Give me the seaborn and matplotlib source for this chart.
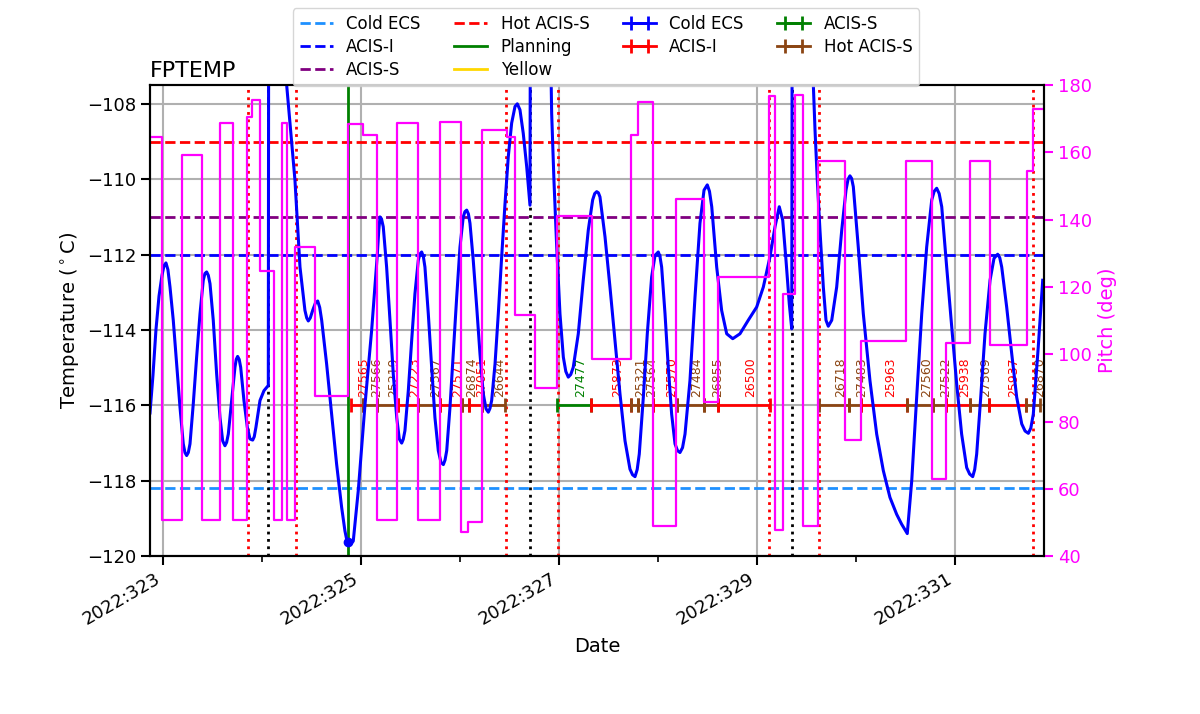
import matplotlib
matplotlib.use("Agg")
import matplotlib.pyplot as plt
from matplotlib.ticker import FixedLocator, FuncFormatter
import numpy as np
import pandas as pd
import seaborn as sns

# times are fractional day-of-year 2022
year = 2022

# model FPTEMP (deg C); values above -107.5 are off the top of the plot
temp_time = [
    322.869, 322.899, 322.929, 322.960, 322.990, 323.010, 323.030, 323.050, 323.071, 323.104, 323.138, 323.172,
    323.205, 323.222, 323.239, 323.256,
    323.273, 323.306, 323.340, 323.374, 323.407, 323.424, 323.441, 323.458,
    323.475, 323.508, 323.542, 323.576, 323.603, 323.626, 323.643,
    323.660, 323.694, 323.727, 323.740, 323.754, 323.770,
    323.785, 323.818, 323.852, 323.879, 323.906, 323.922,
    323.939, 323.980, 324.020, 324.064,
    324.068, 324.140,
    324.249, 324.333, 324.384, 324.434, 324.452, 324.468, 324.488, 324.512, 324.540, 324.563, 324.583,
    324.603, 324.653, 324.704, 324.754, 324.805, 324.838, 324.855, 324.872, 324.895, 324.922,
    324.973, 325.007, 325.040, 325.074, 325.108, 325.141, 325.165, 325.180, 325.192, 325.207,
    325.225, 325.259, 325.293, 325.326, 325.361, 325.387, 325.411, 325.427,
    325.444, 325.478, 325.512, 325.545, 325.579, 325.596, 325.613, 325.630,
    325.646, 325.680, 325.714, 325.747, 325.781, 325.808, 325.832, 325.849,
    325.866, 325.899, 325.932, 325.967, 326.000, 326.033, 326.050, 326.068, 326.085,
    326.101, 326.134, 326.169, 326.202, 326.235, 326.263, 326.286, 326.303,
    326.320, 326.354, 326.387, 326.421, 326.455, 326.488, 326.522, 326.556, 326.579,
    326.606, 326.639, 326.674, 326.700, 326.707,
    326.712, 326.900,
    326.926, 326.949, 326.977, 327.010, 327.044, 327.069, 327.094, 327.119,
    327.144, 327.195, 327.245, 327.296, 327.340, 327.361, 327.381, 327.398,
    327.414, 327.465, 327.515, 327.566, 327.616, 327.667, 327.717, 327.743, 327.768, 327.790,
    327.811, 327.852, 327.892, 327.936, 327.970, 328.003, 328.020,
    328.037, 328.071, 328.104, 328.138, 328.172, 328.197, 328.222, 328.248,
    328.273, 328.323, 328.374, 328.424, 328.465, 328.498, 328.520,
    328.543, 328.593, 328.643, 328.694, 328.755,
    328.828, 328.912, 328.997, 329.064, 329.131, 329.182, 329.225,
    329.260, 329.293, 329.326, 329.351,
    329.356, 329.555,
    329.569, 329.586, 329.609, 329.636, 329.670, 329.697, 329.720,
    329.755, 329.805, 329.856, 329.899, 329.920, 329.939, 329.956,
    329.973, 330.023, 330.074, 330.141, 330.209, 330.276, 330.343, 330.411, 330.461, 330.518,
    330.563, 330.613, 330.664, 330.714, 330.765, 330.790, 330.815, 330.840,
    330.866, 330.916, 330.967, 331.017, 331.067, 331.118, 331.148, 331.179, 331.199,
    331.219, 331.260, 331.303, 331.354, 331.394, 331.431, 331.452,
    331.472, 331.522, 331.573, 331.623, 331.674, 331.708, 331.741, 331.766,
    331.791, 331.841, 331.886,
]
temp_val = [
    -116.20, -115.20, -114.00, -113.10, -112.55, -112.30, -112.22, -112.40, -112.86, -113.74, -114.90, -116.05,
    -117.02, -117.25, -117.33, -117.25,
    -117.02, -115.96, -114.72, -113.57, -112.68, -112.50, -112.46, -112.55,
    -112.77, -113.74, -115.16, -116.32, -116.94, -117.07, -116.98,
    -116.76, -115.87, -114.99, -114.78, -114.70, -114.78,
    -114.99, -115.87, -116.58, -116.89, -116.92, -116.83,
    -116.58, -115.87, -115.61, -115.47,
    -104.0, -104.0,
    -107.49, -110.02, -112.33, -113.48, -113.68, -113.76, -113.68, -113.48, -113.28, -113.23, -113.40,
    -113.74, -114.90, -116.23, -117.56, -118.71, -119.33, -119.55, -119.64, -119.68, -119.60,
    -118.25, -117.11, -116.00, -114.99, -114.00, -112.86, -112.00, -111.35, -111.00, -111.05,
    -111.26, -112.33, -113.74, -115.16, -116.32, -116.89, -117.00, -116.90,
    -116.67, -115.61, -114.28, -113.04, -112.15, -111.98, -111.93, -112.05,
    -112.33, -113.57, -114.99, -116.32, -117.20, -117.51, -117.57, -117.45,
    -117.20, -116.05, -114.63, -113.12, -111.80, -111.00, -110.86, -110.82, -110.92,
    -111.17, -112.15, -113.39, -114.63, -115.69, -116.09, -116.18, -116.08,
    -115.87, -114.90, -113.57, -112.06, -110.64, -109.40, -108.51, -108.07, -108.00,
    -108.16, -108.78, -109.67, -110.47, -110.69,
    -104.0, -104.0,
    -108.25, -110.02, -111.80, -113.57, -114.72, -115.10, -115.25, -115.18,
    -114.99, -114.10, -112.68, -111.35, -110.55, -110.38, -110.33, -110.36,
    -110.47, -111.53, -112.86, -114.28, -115.69, -116.94, -117.69, -117.84, -117.89, -117.70,
    -117.29, -115.78, -114.10, -112.59, -112.02, -111.93, -112.05,
    -112.33, -113.57, -114.99, -116.23, -117.02, -117.20, -117.25, -117.12,
    -116.76, -115.34, -113.12, -111.17, -110.29, -110.15, -110.32,
    -110.73, -112.33, -113.48, -114.10, -114.23,
    -114.10, -113.74, -113.39, -112.86, -112.06, -111.26, -110.73,
    -111.09, -112.15, -113.30, -113.97,
    -104.0, -104.0,
    -107.49, -108.69, -110.02, -111.35, -112.86, -113.74, -113.90,
    -113.74, -112.86, -111.35, -110.29, -110.00, -109.91, -109.98,
    -110.20, -111.80, -113.57, -115.34, -116.76, -117.73, -118.44, -118.89, -119.15, -119.40,
    -118.00, -115.78, -113.57, -111.80, -110.55, -110.32, -110.24, -110.38,
    -110.73, -112.33, -113.92, -115.43, -116.76, -117.65, -117.82, -117.89, -117.70,
    -117.29, -115.78, -114.10, -112.68, -112.10, -111.99, -112.08,
    -112.33, -113.39, -114.63, -115.78, -116.49, -116.68, -116.74, -116.60,
    -116.23, -114.45, -112.68,
]

# pitch (deg), value held until next time
pitch_time = [
    322.869, 322.987, 323.189, 323.391, 323.576, 323.710, 323.852, 323.896, 323.980, 324.124,
    324.199, 324.249, 324.333, 324.535, 324.872, 325.017, 325.157, 325.361, 325.579, 325.798,
    326.007, 326.084, 326.219, 326.472, 326.556, 326.758, 326.983, 327.330, 327.727, 327.795,
    327.947, 328.182, 328.468, 328.609, 329.124, 329.182, 329.260, 329.384, 329.468, 329.619,
    329.889, 330.047, 330.505, 330.765, 330.909, 331.152, 331.354, 331.724, 331.790, 331.899,
]
pitch_val = [
    164.6, 50.9, 159.1, 50.9, 168.6, 50.9, 170.4, 175.5, 124.7, 50.9,
    168.6, 50.9, 132.0, 87.7, 168.4, 165.1, 50.9, 168.6, 50.9, 168.9,
    47.2, 50.2, 166.6, 164.4, 111.7, 90.0, 141.0, 98.6, 165.1, 174.8,
    48.9, 146.2, 85.7, 122.9, 176.7, 47.9, 118.0, 177.0, 48.9, 157.5,
    74.5, 104.0, 157.5, 62.8, 103.2, 157.5, 102.8, 154.5, 172.8, 172.8,
]

# limit lines (planning / yellow sit above the plotted range)
limit_names = ["Cold ECS", "ACIS-I", "ACIS-S", "Hot ACIS-S", "Planning", "Yellow"]
limit_vals = [-118.2, -112.0, -111.0, -109.0, -103.0, -102.0]
limit_colors = ["dodgerblue", "blue", "purple", "red", "green", "gold"]
limit_styles = ["--", "--", "--", "--", "-", "-"]

load_start = 324.869
load_start_temp = -119.62
radzone_times = [323.859, 324.343, 326.465, 326.990, 329.121, 329.626, 331.788]
perigee_times = [324.061, 326.707, 329.354]

# observations
obsid = ["27565", "27566", "25219", "27223", "27567", "27571", "26874", "27051", "26644",
         "27477", "25873", "25321", "27564", "27570", "27484", "26855", "26500",
         "26718", "27483", "25963", "27560", "27522", "25938", "27569", "25937", "26870"]
obs_start = [324.899, 325.020, 325.162, 325.374, 325.576, 325.798, 326.020, 326.091, 326.222,
             326.980, 327.323, 327.727, 327.798, 327.949, 328.192, 328.465, 328.606,
             329.630, 329.929, 330.051, 330.515, 330.778, 330.909, 331.152, 331.343, 331.717]
obs_stop = [325.020, 325.162, 325.374, 325.576, 325.798, 326.020, 326.091, 326.222, 326.455,
            327.323, 327.727, 327.798, 327.949, 328.192, 328.465, 328.606, 329.131,
            329.929, 330.051, 330.515, 330.778, 330.909, 331.152, 331.343, 331.717, 331.859]
obs_inst = ["ACIS-I", "Hot ACIS-S", "Hot ACIS-S", "ACIS-I", "Hot ACIS-S", "ACIS-I", "Hot ACIS-S", "ACIS-I", "Hot ACIS-S",
            "ACIS-S", "ACIS-I", "Hot ACIS-S", "Hot ACIS-S", "ACIS-I", "Hot ACIS-S", "Hot ACIS-S", "ACIS-I",
            "Hot ACIS-S", "Hot ACIS-S", "ACIS-I", "Hot ACIS-S", "Hot ACIS-S", "ACIS-I", "Hot ACIS-S", "ACIS-I", "Hot ACIS-S"]
obs_level = -116.0
inst_names = ["Cold ECS", "ACIS-I", "ACIS-S", "Hot ACIS-S"]
inst_colors = {"Cold ECS": "blue", "ACIS-I": "red", "ACIS-S": "green", "Hot ACIS-S": "saddlebrown"}

major_days = [323, 325, 327, 329, 331]
minor_days = [324, 326, 328, 330]
temp_ticks = [-120, -118, -116, -114, -112, -110, -108]
pitch_ticks = [40, 60, 80, 100, 120, 140, 160, 180]

assert len(temp_time) == len(temp_val)

plt.rcParams["font.size"] = 12
plt.rcParams["axes.linewidth"] = 1.5

temp = pd.DataFrame({"time": temp_time, "temp": temp_val})
pitch = pd.DataFrame({"time": pitch_time, "pitch": pitch_val})
obs = pd.DataFrame({"obsid": obsid, "start": obs_start, "stop": obs_stop, "inst": obs_inst})
obs["mid"] = (obs["start"] + obs["stop"]) / 2
obs["half"] = (obs["stop"] - obs["start"]) / 2

fig, ax = plt.subplots(figsize=(12, 7.14), dpi=100)
fig.subplots_adjust(left=0.125, right=0.87, top=0.881, bottom=0.221)

ax.grid(True, color="#b0b0b0", lw=1.5)
ax.set_axisbelow(True)

limit_handles = []
for name, val, col, ls in zip(limit_names, limit_vals, limit_colors, limit_styles):
    limit_handles.append(ax.axhline(val, ls=ls, color=col, lw=2, label=name, zorder=2))

for t in radzone_times:
    ax.axvline(t, color="red", ls=":", lw=2, zorder=2)
for t in perigee_times:
    ax.axvline(t, color="black", ls=":", lw=2, zorder=2)
ax.axvline(load_start, color="green", ls="-", lw=2, zorder=2)

eb_kw = dict(fmt="-", elinewidth=2, lw=2, capsize=5, capthick=2, zorder=3)
inst_handles = {}
for _, row in obs.iterrows():
    col = inst_colors[row["inst"]]
    h = ax.errorbar([row["mid"]], [obs_level], xerr=[row["half"]], color=col, **eb_kw)
    inst_handles.setdefault(row["inst"], h)
    ax.text(row["mid"], obs_level + 0.22, row["obsid"], rotation=90, fontsize=9,
            color=col, ha="left", va="bottom", zorder=3)
for inst in inst_names:
    if inst not in inst_handles:
        # no observation of this kind in the load, keep it in the key
        inst_handles[inst] = ax.errorbar([np.nan], [np.nan], xerr=[np.nan],
                                         color=inst_colors[inst], **eb_kw)

sns.lineplot(data=temp, x="time", y="temp", ax=ax, color="blue", lw=2.2,
             estimator=None, sort=False, legend=False, zorder=5)
ax.plot(load_start, load_start_temp, "o", color="blue", ms=6, zorder=6)

ax.set_xlim(322.869, 331.899)
ax.set_ylim(-120, -107.5)
ax.xaxis.set_major_locator(FixedLocator(major_days))
ax.xaxis.set_minor_locator(FixedLocator(minor_days))
ax.xaxis.set_major_formatter(FuncFormatter(lambda v, p: f"{year}:{int(round(v)):03d}"))
ax.set_yticks(temp_ticks)
ax.tick_params(axis="both", which="major", labelsize=13, length=6.5, width=1.5)
ax.tick_params(axis="x", which="minor", length=4, width=1.2)
plt.setp(ax.get_xticklabels(), rotation=30, ha="right")
ax.set_xlabel("Date", fontsize=14, labelpad=6)
ax.set_ylabel(r"Temperature ($^\circ$C)", fontsize=14)
ax.set_title("FPTEMP", loc="left", fontsize=16)

ax2 = ax.twinx()
sns.lineplot(data=pitch, x="time", y="pitch", ax=ax2, color="magenta", lw=1.6,
             drawstyle="steps-post", estimator=None, sort=False, legend=False)
ax2.set_ylim(40, 180)
ax2.set_yticks(pitch_ticks)
ax2.set_ylabel("Pitch (deg)", color="magenta", fontsize=14)
ax2.tick_params(axis="y", colors="magenta", labelsize=13, length=6.5, width=1.5)
ax2.set_xlim(322.869, 331.899)

handles = limit_handles + [inst_handles[i] for i in inst_names]
labels = limit_names + inst_names
fig.legend(handles, labels, loc="upper center", bbox_to_anchor=(0.505, 1.0), ncol=4,
           fontsize=12, labelspacing=0.3)

fig.savefig("out.png", dpi=100)
